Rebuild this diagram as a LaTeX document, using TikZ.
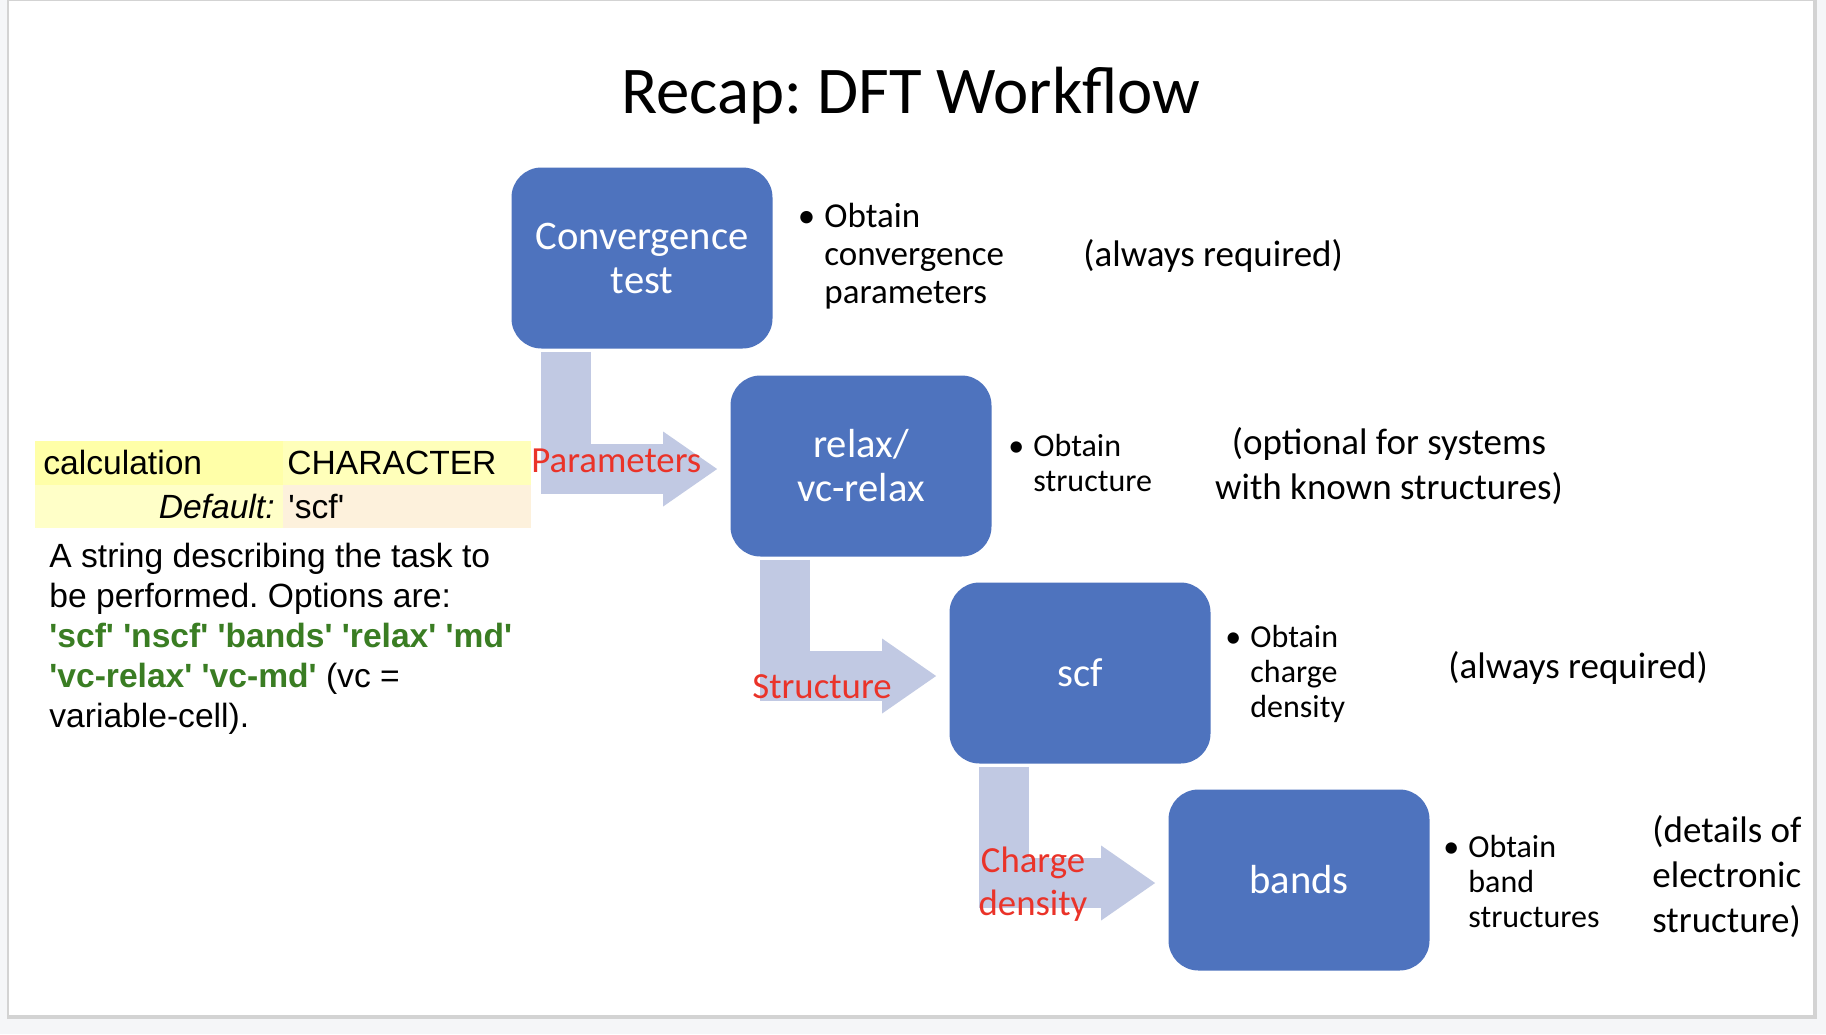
\documentclass[tikz,border=0pt]{standalone}
\usepackage{fontspec}
\setmainfont{Carlito}
\newfontfamily\arialfont{Liberation Sans}
\usetikzlibrary{arrows.meta,calc}
\frenchspacing
\definecolor{WFBlue}{HTML}{4E73BE}
\definecolor{WFPale}{HTML}{C1C9E3}
\definecolor{WFRed}{HTML}{EA3329}
\definecolor{WFGreen}{HTML}{3A7D23}
\definecolor{WFOut}{HTML}{F5F6F8}
\definecolor{WFShadow}{HTML}{D3D3D3}
\definecolor{WFYellowA}{HTML}{FFFFA8}
\definecolor{WFYellowB}{HTML}{FFFFBA}
\definecolor{WFYellowC}{HTML}{FFFFC8}
\definecolor{WFPeach}{HTML}{FDF1DC}
\newcommand{\sq}{\textquotesingle}
\tikzset{
  wfstep/.style={rectangle,rounded corners=15pt,fill=WFBlue,text=white,
    minimum width=130.5pt,minimum height=90.5pt,align=center,inner sep=0pt,
    font=\fontsize{20.3}{22}\selectfont},
  wfflow/.style={WFPale,line width=25pt,
    -{Triangle[length=27pt,width=37.5pt,line width=0pt]}},
  wfbullet/.style={anchor=west,align=left,inner sep=0pt,
    font=\fontsize{16}{17.5}\selectfont},
  wfnote/.style={anchor=west,align=left,inner sep=0pt,
    font=\fontsize{18.5}{22.5}\selectfont},
  wfred/.style={text=WFRed,inner sep=0pt,align=center,
    font=\fontsize{18.4}{21.5}\selectfont},
  wfarial/.style={inner sep=0pt,font=\arialfont\fontsize{16.8}{20}\selectfont}
}
\newcommand{\wfdot}{\llap{\textbullet\hspace{4.5pt}}}

\begin{document}
\begin{tikzpicture}[x=0.5pt,y=-0.5pt]
  \path[use as bounding box] (0,0) rectangle (1826,1034);
  \fill[WFOut] (0,0) rectangle (1826,1034);
  \fill[WFShadow] (7,0) rectangle (1817,1019);
  \fill[white] (9,1) rectangle (1813,1015);

  \node[font=\fontsize{33.4}{40}\selectfont,anchor=base,inner sep=0pt]
    (title) at (911,113) {Recap: DFT Workflow};

  % workflow steps
  \node[wfstep] (conv)  at (642,258)  {Convergence\\test};
  \node[wfstep] (relax) at (861,466)  {relax/\\vc-relax};
  \node[wfstep] (scf)   at (1080,673) {scf};
  \node[wfstep] (bands) at (1299,880) {bands};

  \draw[wfflow] ($(conv.south west)+(55,3)$)  |- ($(relax.west)+(-13,3)$);
  \draw[wfflow] ($(relax.south west)+(55,3)$) |- ($(scf.west)+(-13,3)$);
  \draw[wfflow] ($(scf.south west)+(55,3)$)   |- ($(bands.west)+(-13,3)$);

  \node[wfred,anchor=base west] (lpar) at (531,472) {Parameters};
  \node[wfred,anchor=base west] (lstr) at (752,698) {Structure};
  \node[wfred,anchor=center] (lchg) at (1033,884) {Charge\\density};

  % bullets and remarks
  \node[wfbullet,font=\fontsize{17.5}{19}\selectfont] (bconv) at (824,256)
    {\wfdot Obtain\\convergence\\parameters};
  \node[wfbullet] (brelax) at (1033,463) {\wfdot Obtain\\structure};
  \node[wfbullet] (bscf)   at (1250,674) {\wfdot Obtain\\charge\\density};
  \node[wfbullet] (bbands) at (1468,881) {\wfdot Obtain\\band\\structures};

  \node[wfnote] (nconv)  at (1083,256) {(always required)};
  \node[wfnote,anchor=center,align=center] (nrelax) at (1389,466)
    {(optional for systems\\with known structures)};
  \node[wfnote] (nscf)   at (1448,668) {(always required)};
  \node[wfnote] (nbands) at (1652,877) {(details of\\electronic\\structure)};

  % input variable card
  \fill[WFYellowA] (35,441) rectangle (283,485);
  \fill[WFYellowB] (283,441) rectangle (531,485);
  \fill[WFYellowC] (35,485) rectangle (283,528);
  \fill[WFPeach]   (283,485) rectangle (531,528);
  \node[wfarial,anchor=base west] (vname) at (43,474) {calculation};
  \node[wfarial,anchor=base west] (vtype) at (287,474) {CHARACTER};
  \node[wfarial,anchor=base east] (vdeflabel) at (275,518) {\itshape Default:};
  \node[wfarial,anchor=base west] (vdef) at (288,518) {\sq scf\sq};
  \node[wfarial,anchor=north west,align=left] (vdesc) at (49,543)
    {A string describing the task to\\be performed. Options are:\\
     {\color{WFGreen}\bfseries \sq scf\sq\ \sq nscf\sq\ \sq bands\sq\ \sq relax\sq\ \sq md\sq}\\
     {\color{WFGreen}\bfseries \sq vc-relax\sq\ \sq vc-md\sq} (vc =\\
     variable-cell).};
\end{tikzpicture}
\end{document}
